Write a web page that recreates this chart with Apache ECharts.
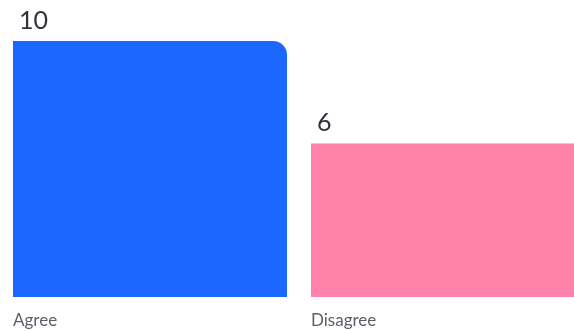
<!DOCTYPE html>
<html>
<head>
<meta charset="utf-8">
<script src="https://cdn.jsdelivr.net/npm/echarts@6/dist/echarts.min.js"></script>
<style>
html,body{margin:0;padding:0;background:#fff;}
#chart{width:574px;height:331px;}
</style>
</head>
<body>
<div id="chart"></div>
<script>
const categories = ['Agree', 'Disagree'];
const values = [10, 6];
const barColors = ['#1b67ff', '#ff80a8'];
const cornerRadii = [[0, 14, 0, 0], [0, 0, 0, 0]];

const chart = echarts.init(document.getElementById('chart'), null, {renderer: 'canvas'});
chart.setOption({
  animation: false,
  grid: {left: 1, top: 41, bottom: 34, width: 596, containLabel: false, outerBoundsMode: 'none'},
  xAxis: {
    type: 'category',
    data: categories,
    axisLine: {show: false},
    axisTick: {show: false},
    axisLabel: {
      margin: 15,
      formatter: function (v) { return '{a|' + v + '}'; },
      rich: {
        a: {width: 274, align: 'left', fontFamily: 'Lato', fontSize: 17, color: '#5a5f69'}
      }
    }
  },
  yAxis: {type: 'value', min: 0, max: 10, show: false, splitLine: {show: false}},
  series: [{
    type: 'bar',
    barWidth: 274,
    data: values.map((v, i) => ({
      value: v,
      itemStyle: {color: barColors[i], borderRadius: cornerRadii[i]}
    })),
    label: {
      show: true,
      position: [6, -33],
      fontFamily: 'Lato',
      fontSize: 25,
      color: '#2e323b'
    }
  }]
});
</script>
</body>
</html>
